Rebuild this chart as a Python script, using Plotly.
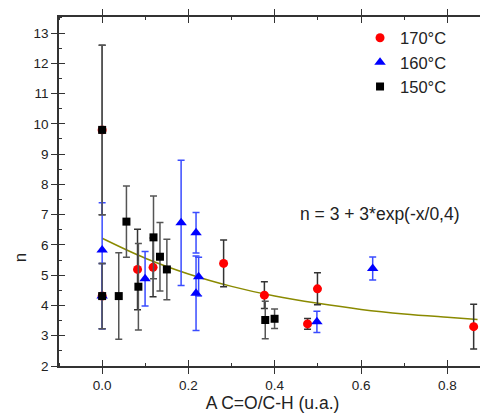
import plotly.graph_objects as go

# ---- data ----
red_x = [0, 0, 0.082, 0.118, 0.2815, 0.376, 0.476, 0.499, 0.861]
red_y = [9.8, 4.31, 5.19, 5.26, 5.39, 4.34, 3.39, 4.55, 3.30]
red_err = [2.8, 1.08, 1.33, 0.97, 0.77, 0.44, 0.18, 0.53, 0.74]

blue_x = [0, 0, 0.0995, 0.183, 0.2176, 0.2176, 0.2236, 0.4977, 0.627]
blue_y = [5.83, 4.31, 4.88, 6.73, 6.40, 4.40, 4.95, 3.46, 5.22]
blue_err = [1.56, 1.08, 0.9, 2.07, 0.67, 1.23, 0.64, 0.35, 0.38]

black_x = [0, 0, 0.0385, 0.0563, 0.084, 0.119, 0.134, 0.150, 0.378, 0.3996]
black_y = [9.8, 4.31, 4.31, 6.77, 4.62, 6.25, 5.61, 5.19, 3.52, 3.56]
black_err = [2.8, 1.08, 1.43, 1.18, 1.43, 1.37, 1.13, 1.0, 0.62, 0.32]

fit_x = [0, 0.1, 0.2, 0.3, 0.4, 0.5, 0.6, 0.7, 0.8, 0.87]
fit_y = [6.22, 5.56, 5.04, 4.63, 4.31, 4.07, 3.87, 3.72, 3.61, 3.54]

series_names = ["170°C", "160°C", "150°C"]
fit_label = "n = 3 + 3*exp(-x/0,4)"
fit_label_pos = (0.455, 7.02)
x_title = "A C=O/C-H (u.a.)"
y_title = "n"

FONT = "Liberation Sans, Arial, sans-serif"

fig = go.Figure()

fig.add_trace(go.Scatter(
    x=fit_x, y=fit_y, mode="lines", line=dict(color="#8a8a00", width=1.5, shape="spline"),
    showlegend=False, hoverinfo="skip"))

fig.add_trace(go.Scatter(
    x=red_x, y=red_y, mode="markers", name=series_names[0],
    marker=dict(symbol="circle", size=9, color="#ff0000", line=dict(width=0)),
    error_y=dict(type="data", array=red_err, color="#333333", thickness=1.5, width=3.5)))

fig.add_trace(go.Scatter(
    x=blue_x, y=blue_y, mode="markers", name=series_names[1],
    marker=dict(symbol="triangle-up", size=10, color="#0000ff", line=dict(width=0)),
    error_y=dict(type="data", array=blue_err, color="#3a4cff", thickness=1.5, width=3.5)))

fig.add_trace(go.Scatter(
    x=black_x, y=black_y, mode="markers", name=series_names[2],
    marker=dict(symbol="square", size=8, color="#000000", line=dict(width=0)),
    error_y=dict(type="data", array=black_err, color="#555555", thickness=1.5, width=3.5)))

# dummy trace for the overlay axes (inside half of crossing ticks)
fig.add_trace(go.Scatter(x=[None], y=[None], xaxis="x2", yaxis="y2",
                         showlegend=False, hoverinfo="skip"))

xr = [-0.1, 0.8896]
yr = [2, 13.53]
axis_common = dict(showgrid=False, zeroline=False, linecolor="#333333", linewidth=1.5,
                   tickcolor="#333333", tickwidth=1.2,
                   tickfont=dict(family=FONT, size=13.5, color="#222222"))

fig.update_layout(
    width=480, height=408,
    margin=dict(l=51, r=2, t=9, b=50, autoexpand=False),
    paper_bgcolor="white", plot_bgcolor="white",
    font=dict(family=FONT, color="#222222"),
    xaxis=dict(range=xr, dtick=0.2, tick0=0, tickformat=".1f", ticks="outside", ticklen=6,
               mirror="allticks", showline=True,
               minor=dict(ticks="inside", ticklen=3, dtick=0.1, tick0=0, tickcolor="#333333"),
               title=dict(text=x_title, font=dict(family=FONT, size=17.5, color="#222222"), standoff=5),
               **axis_common),
    yaxis=dict(range=yr, dtick=1, tick0=0, ticks="outside", ticklen=6,
               mirror="allticks", showline=True,
               minor=dict(ticks="inside", ticklen=3, dtick=0.5, tick0=0, tickcolor="#333333"),
               **axis_common),
    xaxis2=dict(range=xr, overlaying="x", anchor="y2", dtick=0.2, tick0=0, ticks="inside", ticklen=6,
                mirror="allticks", showline=False, showticklabels=False, showgrid=False,
                zeroline=False, tickcolor="#333333", tickwidth=1.2),
    yaxis2=dict(range=yr, overlaying="y", anchor="x2", dtick=1, tick0=0, ticks="inside", ticklen=6,
                mirror="allticks", showline=False, showticklabels=False, showgrid=False,
                zeroline=False, tickcolor="#333333", tickwidth=1.2),
    legend=dict(x=0.705, y=0.99, xanchor="left", yanchor="top", bgcolor="rgba(0,0,0,0)",
                font=dict(family=FONT, size=16.5, color="#222222"), itemwidth=30,
                tracegroupgap=0),
    annotations=[
        dict(x=fit_label_pos[0], y=fit_label_pos[1], xref="x", yref="y", text=fit_label,
             showarrow=False, xanchor="left", yanchor="middle",
             font=dict(family=FONT, size=17.5, color="#222222")),
        dict(x=0, y=0.309, xref="paper", yref="paper", text=y_title, showarrow=False,
             xanchor="center", yanchor="middle", xshift=-39, textangle=-90,
             font=dict(family=FONT, size=17, color="#222222")),
    ],
)

fig.write_html("out.html")
